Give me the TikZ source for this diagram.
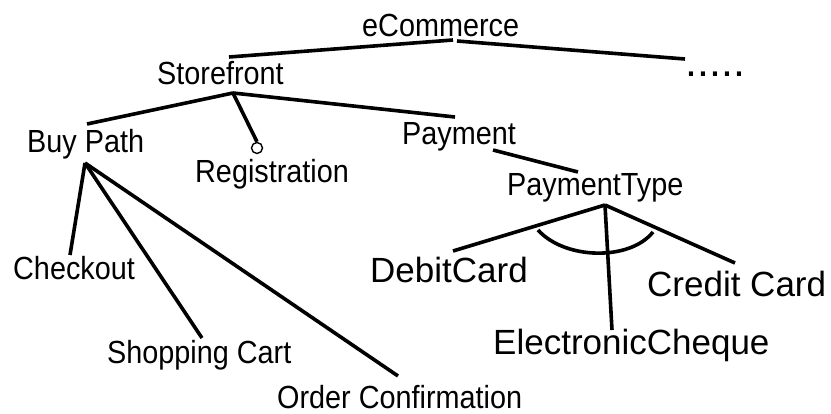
\documentclass[tikz,border=0pt]{standalone}
\usepackage{fontspec}
\usepackage{graphicx}
\setmainfont{Liberation Sans}
\newcommand{\nar}[1]{\scalebox{0.9}[1]{#1}}
\begin{document}
\begin{tikzpicture}[x=1pt,y=-1pt,
  lbl/.style={inner sep=0pt, anchor=base west, font=\fontsize{32}{36}\selectfont},
  biglbl/.style={inner sep=0pt, anchor=base west, font=\fontsize{35}{40}\selectfont},
  dotlbl/.style={inner sep=0pt, anchor=base west, font=\fontsize{43}{48}\selectfont},
  edge/.style={line width=3.6pt},
  optional/.style={line width=1.4pt, draw, circle, inner sep=0pt, minimum size=11pt}]
\useasboundingbox (0,0) rectangle (831,414);

% feature labels
\node[lbl] (ecom)  at (362,37)  {\nar{eCommerce}};
\node[lbl] (store) at (157,85)  {\nar{Storefront}};
\node[dotlbl] (more) at (685,77) {.....};
\node[lbl] (buy)   at (27,153)  {\nar{Buy Path}};
\node[lbl] (reg)   at (195,183) {\nar{Registration}};
\node[lbl] (pay)   at (402,145) {\nar{Payment}};
\node[lbl] (ptype) at (507,196) {\nar{PaymentType}};
\node[lbl] (check) at (13,280)  {\nar{Checkout}};
\node[lbl] (cart)  at (107,363) {\nar{Shopping Cart}};
\node[lbl] (order) at (277,409) {\nar{Order Confirmation}};
\node[biglbl] (debit)  at (370,283) {DebitCard};
\node[biglbl] (credit) at (647,297) {Credit Card};
\node[biglbl] (echq)   at (493,355) {ElectronicCheque};

% attachment points of the connectors
\coordinate (ecomL)  at (453,40);
\coordinate (ecomR)  at (457,41);
\coordinate (storeT) at (229,57);
\coordinate (storeB) at (233,93);
\coordinate (moreT)  at (685,59);
\coordinate (buyT)   at (87,124);
\coordinate (buyB)   at (85,163);
\coordinate (payT)   at (455,117);
\coordinate (payB)   at (493,150);
\coordinate (ptypeT) at (578,172);
\coordinate (ptypeB) at (605,205);
\coordinate (checkT) at (70,255);
\coordinate (cartT)  at (202,338);
\coordinate (orderT) at (398,376);
\coordinate (debitT) at (453,251);
\coordinate (echqT)  at (612,330);
\coordinate (creditT) at (735,263);

% optional marker above Registration
\node[optional] (regmark) at (257,148) {};

% tree edges
\draw[edge] (ecomL) -- (storeT);
\draw[edge] (ecomR) -- (moreT);
\draw[edge] (storeB) -- (buyT);
\draw[edge] (storeB) -- (regmark.north);
\draw[edge] (storeB) -- (payT);
\draw[edge] (payB) -- (ptypeT);
\draw[edge] (buyB) -- (checkT);
\draw[edge] (buyB) -- (cartT);
\draw[edge] (buyB) -- (orderT);
\draw[edge] (ptypeB) -- (debitT);
\draw[edge] (ptypeB) -- (echqT);
\draw[edge] (ptypeB) -- (creditT);

% alternative-group arc
\draw[edge] (538,230) .. controls (565,260) and (630,261) .. (653,232);
\end{tikzpicture}
\end{document}
